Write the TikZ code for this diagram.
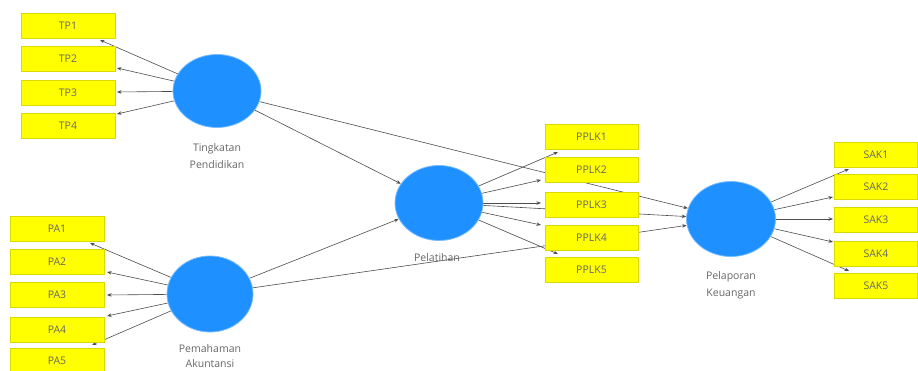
\documentclass[tikz,border=0pt]{standalone}
\usepackage{fontspec}
\setmainfont{Open Sans}
\usetikzlibrary{arrows.meta,shapes.geometric,calc}
\pgfdeclarelayer{bg}
\pgfsetlayers{bg,main}
\definecolor{lvblue}{RGB}{30,144,255}
\definecolor{indyellow}{RGB}{255,255,0}
\tikzset{
  ind/.style={rectangle,fill=indyellow,draw=indyellow!85!black,line width=0.3pt,minimum height=25pt,inner sep=0pt,font=\fontsize{10.5}{12}\selectfont,text=black!60},
  lv/.style={ellipse,fill=lvblue,draw=lvblue!60!white,line width=0.8pt,inner sep=0pt},
  lvlabel/.style={font=\fontsize{10.5}{17}\selectfont,text=black!60,align=center},
  arr/.style={draw=black!70,line width=0.6pt,-{Stealth[length=4.5pt,width=3.5pt]}},
}
\begin{document}
\begin{tikzpicture}[x=1pt,y=-1pt]
\useasboundingbox (0,0) rectangle (918,371);
% latent variables
\node[lv,minimum width=88pt,minimum height=73pt] (tpc) at (217,91) {};
\node[lv,minimum width=86pt,minimum height=76pt] (pac) at (210,294) {};
\node[lv,minimum width=88pt,minimum height=75pt] (pel) at (439,203) {};
\node[lv,minimum width=89pt,minimum height=75pt] (pk) at (731,219) {};
% labels
\node[lvlabel] (tpl) at (217,156) {Tingkatan\\Pendidikan};
\node[lvlabel,font=\fontsize{10.5}{15}\selectfont] (pal) at (210,356) {Pemahaman\\Akuntansi};
\node[lvlabel] (pell) at (437,258) {Pelatihan};
\node[lvlabel] (pkl) at (731,285) {Pelaporan\\Keuangan};
% indicators
\foreach \n/\t/\y in {tp1/TP1/25.5,tp2/TP2/58.5,tp3/TP3/92.5,tp4/TP4/125.5}
  \node[ind,minimum width=94pt] (\n) at (68,\y) {\t};
\foreach \n/\t/\y in {pa1/PA1/228.5,pa2/PA2/261.5,pa3/PA3/294.5,pa4/PA4/329.5,pa5/PA5/360.5}
  \node[ind,minimum width=94pt] (\n) at (57,\y) {\t};
\foreach \n/\t/\y in {pp1/PPLK1/137,pp2/PPLK2/169.5,pp3/PPLK3/204.5,pp4/PPLK4/237.5,pp5/PPLK5/269.5}
  \node[ind,minimum width=93pt] (\n) at (591.5,\y) {\t};
\foreach \n/\t/\y in {sk1/SAK1/155,sk2/SAK2/187,sk3/SAK3/219.5,sk4/SAK4/254,sk5/SAK5/286}
  \node[ind,minimum width=83pt] (\n) at (876,\y) {\t};
% arrow tips for outer model
\coordinate (t1) at (100,40);
\coordinate (t2) at (117,68);
\coordinate (t3) at (117,92);
\coordinate (t4) at (117,114);
\coordinate (a1) at (90,243);
\coordinate (a2) at (107,272);
\coordinate (a3) at (107,295);
\coordinate (a4) at (107,316);
\coordinate (a5) at (92,345);
\coordinate (p1) at (558,152);
\coordinate (p2) at (541,180);
\coordinate (p3) at (541,203);
\coordinate (p4) at (541,225);
\coordinate (p5) at (558,254);
\coordinate (s1) at (849,169);
\coordinate (s2) at (833,197);
\coordinate (s3) at (833,219);
\coordinate (s4) at (833,242);
\coordinate (s5) at (849,271);
\begin{pgfonlayer}{bg}
\foreach \c in {t1,t2,t3,t4} \draw[arr] (tpc) -- (\c);
\foreach \c in {a1,a2,a3,a4,a5} \draw[arr] (pac) -- (\c);
\foreach \c in {p1,p2,p3,p4,p5} \draw[arr] (pel) -- (\c);
\foreach \c in {s1,s2,s3,s4,s5} \draw[arr] (pk) -- (\c);
\draw[arr] (tpc) -- (pel);
\draw[arr] (tpc) -- (pk);
\draw[arr] (pac) -- (pel);
\draw[arr] (pac) -- (pk);
\draw[arr] (pel) -- (pk);
\end{pgfonlayer}
\end{tikzpicture}
\end{document}
